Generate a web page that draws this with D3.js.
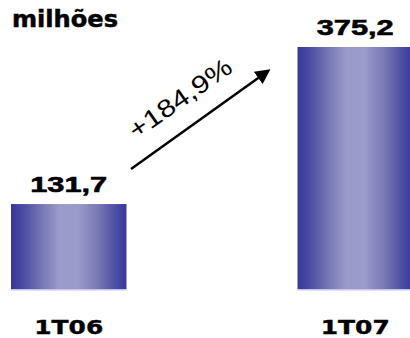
<!DOCTYPE html>
<html>
<head>
<meta charset="utf-8">
<script src="https://cdn.jsdelivr.net/npm/d3@7"></script>
<style>
  body{margin:0;background:#fff;}
</style>
</head>
<body>
<svg id="chart"></svg>
<script>
// data
const categories = ["1T06","1T07"];
const values = [131.7, 375.2];
const valueLabels = ["131,7","375,2"];
const unitLabel = "milhões";
const growthLabel = "+184,9%";

const width = 410, height = 338;
const svg = d3.select("#chart").attr("width",width).attr("height",height);

const x = d3.scaleBand()
    .domain(categories)
    .range([11,413])
    .paddingInner(0.597)
    .paddingOuter(0);
const y = d3.scaleLinear()
    .domain([0,375.2])
    .range([289,47]);

// gradient for bars
const defs = svg.append("defs");
const grad = defs.append("linearGradient")
    .attr("id","barGrad")
    .attr("x1","0%").attr("x2","100%").attr("y1","0%").attr("y2","0%");
[[0,"#37379a"],[0.1,"#4a4aa2"],[0.28,"#7a7ab6"],[0.42,"#9a9acb"],[0.58,"#9a9acb"],[0.75,"#7979b5"],[0.9,"#4f4fa2"],[1,"#37379a"]]
    .forEach(s=>grad.append("stop").attr("offset",s[0]).attr("stop-color",s[1]));

const marker = defs.append("marker")
    .attr("id","arrowHead")
    .attr("viewBox","0 0 10 10")
    .attr("refX",8).attr("refY",5)
    .attr("markerWidth",6).attr("markerHeight",6)
    .attr("markerUnits","strokeWidth")
    .attr("orient","auto");
marker.append("path").attr("d","M0,0 L10,5 L0,10 z").attr("fill","#000");

// bars
svg.selectAll("rect.bar")
    .data(values)
    .enter()
    .append("rect")
    .attr("class","bar")
    .attr("x",(d,i)=>x(categories[i]))
    .attr("y",d=>y(d))
    .attr("width",x.bandwidth())
    .attr("height",d=>y(0)-y(d))
    .attr("fill","url(#barGrad)");

// thin light line under bars
svg.selectAll("rect.base")
    .data(values)
    .enter()
    .append("rect")
    .attr("class","base")
    .attr("x",(d,i)=>x(categories[i]))
    .attr("y",y(0))
    .attr("width",x.bandwidth())
    .attr("height",1.5)
    .attr("fill","#c4c4f0");

// value labels
svg.selectAll("text.val")
    .data(values)
    .enter()
    .append("text")
    .attr("class","val")
    .attr("x",(d,i)=>x(categories[i])+x.bandwidth()/2)
    .attr("y",d=>y(d)-12)
    .attr("text-anchor","middle")
    .attr("font-family","Liberation Sans, Arial, sans-serif")
    .attr("font-weight","bold")
    .attr("font-size",22)
    .attr("stroke","#000")
    .attr("stroke-width",0.6)
    .attr("textLength",77)
    .attr("lengthAdjust","spacingAndGlyphs")
    .text((d,i)=>valueLabels[i]);

// category labels
svg.selectAll("text.cat")
    .data(categories)
    .enter()
    .append("text")
    .attr("class","cat")
    .attr("x",d=>x(d)+x.bandwidth()/2)
    .attr("y",334)
    .attr("text-anchor","middle")
    .attr("font-family","DejaVu Sans, Verdana, sans-serif")
    .attr("font-weight","bold")
    .attr("font-size",19.5)
    .attr("stroke","#000")
    .attr("stroke-width",0.4)
    .attr("textLength",69)
    .attr("lengthAdjust","spacingAndGlyphs")
    .text(d=>d);

// unit label
svg.append("text")
    .attr("x",12)
    .attr("y",27)
    .attr("font-family","DejaVu Sans, Verdana, sans-serif")
    .attr("font-weight","bold")
    .attr("font-size",23)
    .attr("stroke","#000")
    .attr("stroke-width",0.5)
    .attr("textLength",106)
    .attr("lengthAdjust","spacingAndGlyphs")
    .text(unitLabel);

// growth arrow
svg.append("line")
    .attr("x1",131).attr("y1",169)
    .attr("x2",268).attr("y2",71)
    .attr("stroke","#000")
    .attr("stroke-width",2.5)
    .attr("marker-end","url(#arrowHead)");

svg.append("text")
    .attr("transform","translate(180,98) rotate(-35)")
    .attr("text-anchor","middle")
    .attr("dominant-baseline","central")
    .attr("font-family","Liberation Sans, Arial, sans-serif")
    .attr("font-size",25)
    .attr("textLength",120)
    .attr("lengthAdjust","spacingAndGlyphs")
    .text(growthLabel);
</script>
</body>
</html>
